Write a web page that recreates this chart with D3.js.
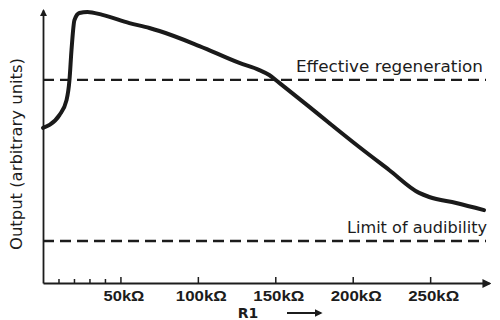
<!DOCTYPE html>
<html>
<head>
<meta charset="utf-8">
<script src="https://cdn.jsdelivr.net/npm/d3@7"></script>
<style>
  body { margin: 0; background: #fff; }
  svg { font-family: "DejaVu Sans", sans-serif; }
  .axis path, .axis line { stroke: #1c1c1c; }
  .axis text { fill: #1c1c1c; }
</style>
</head>
<body>
<div id="chart"></div>
<script>

// resistance R1 (kOhm) and output (arbitrary units)
var r1Values = [0, 4.2, 10.6, 15.2, 17.1, 18.4, 20.3, 23.5, 28.7, 38.4, 55.8, 68.7, 75.2, 101, 126.8, 139.7, 146.1, 152.6, 172, 184.8, 204.2, 223.5, 242.9, 249.4, 266.8, 284.8];
var outputValues = [5.68, 5.79, 6.15, 6.70, 7.44, 8.53, 9.63, 9.89, 9.93, 9.82, 9.52, 9.34, 9.23, 8.68, 8.06, 7.80, 7.62, 7.33, 6.45, 5.86, 4.98, 4.14, 3.30, 3.15, 2.93, 2.67];

var levelNames = ["Effective regeneration", "Limit of audibility"];
var levelValues = [7.44, 1.54];

var majorTicks = [50, 100, 150, 200, 250];
var minorTicks = [10, 20, 30, 40];

var width = 500, height = 320;

var svg = d3.select("#chart")
    .append("svg")
    .attr("width", width)
    .attr("height", height);

var xScale = d3.scaleLinear()
    .domain([0, 288])
    .range([43, 489]);

var yScale = d3.scaleLinear()
    .domain([0, 10])
    .range([283, 10]);

svg.append("defs").append("marker")
    .attr("id", "arrow")
    .attr("viewBox", "0 0 10 10")
    .attr("refX", 8).attr("refY", 5)
    .attr("markerWidth", 4).attr("markerHeight", 5)
    .attr("orient", "auto")
    .append("path")
    .attr("d", "M0,0 L10,5 L0,10 z")
    .attr("fill", "#1c1c1c");

// x axis with upward ticks
var xAxis = d3.axisBottom(xScale)
    .tickValues(majorTicks)
    .tickSize(-6)
    .tickSizeOuter(0)
    .tickPadding(8)
    .tickFormat(function(d) { return d + "k\u03A9"; });

var gx = svg.append("g")
    .attr("class", "axis")
    .attr("transform", "translate(0," + yScale(0) + ")")
    .call(xAxis)
    .attr("font-size", 14);

gx.select(".domain").attr("stroke-width", 2.2).attr("marker-end", "url(#arrow)");
gx.selectAll(".tick line").attr("stroke-width", 1.5);
gx.selectAll(".tick text")
    .attr("dx", 3)
    .attr("textLength", function(d) { return (d + "k\u03A9").length * 10.2; })
    .attr("lengthAdjust", "spacingAndGlyphs")
    .style("font-weight", "bold");

var minorAxis = d3.axisBottom(xScale)
    .tickValues(minorTicks)
    .tickSize(-4)
    .tickFormat("");

svg.append("g")
    .attr("class", "axis")
    .attr("transform", "translate(0," + yScale(0) + ")")
    .call(minorAxis)
    .call(function(g) { g.select(".domain").remove(); })
    .selectAll(".tick line").attr("stroke-width", 1.5);

// y axis, no ticks, arrow on top
var yAxis = d3.axisLeft(yScale).tickValues([]).tickSizeOuter(0);

svg.append("g")
    .attr("class", "axis")
    .attr("transform", "translate(" + xScale(0) + ",0)")
    .call(yAxis)
    .select(".domain")
    .attr("stroke-width", 1.8)
    .attr("marker-end", "url(#arrow)");

// axis titles
svg.append("text")
    .attr("transform", "rotate(-90)")
    .attr("x", -154)
    .attr("y", 22)
    .attr("textLength", 192)
    .attr("lengthAdjust", "spacingAndGlyphs")
    .style("text-anchor", "middle")
    .style("font-size", "15px")
    .attr("fill", "#1c1c1c")
    .text("Output (arbitrary units)");

svg.append("text")
    .attr("x", 248)
    .attr("y", 318)
    .style("text-anchor", "middle")
    .style("font-size", "14px")
    .style("font-weight", "bold")
    .attr("fill", "#1c1c1c")
    .text("R1");

svg.append("line")
    .attr("x1", 287).attr("x2", 321)
    .attr("y1", 313).attr("y2", 313)
    .attr("stroke", "#1c1c1c")
    .attr("stroke-width", 2)
    .attr("marker-end", "url(#arrow)");

// dashed reference levels
var levelLabelX = [296, 347];
var levelLabelW = [187, 140];

levelValues.forEach(function(v, i) {
    svg.append("line")
        .attr("x1", xScale(0))
        .attr("x2", 486)
        .attr("y1", yScale(v))
        .attr("y2", yScale(v))
        .attr("stroke", "#1c1c1c")
        .attr("stroke-width", 2.4)
        .attr("stroke-dasharray", "11,6");

    svg.append("text")
        .attr("x", levelLabelX[i])
        .attr("y", yScale(v) - 8)
        .attr("textLength", levelLabelW[i])
        .attr("lengthAdjust", "spacingAndGlyphs")
        .style("font-size", "15px")
        .attr("fill", "#1c1c1c")
        .text(levelNames[i]);
});

// response curve
var data = r1Values.map(function(r, i) { return { r: r, out: outputValues[i] }; });

var line = d3.line()
    .x(function(d) { return xScale(d.r); })
    .y(function(d) { return yScale(d.out); })
    .curve(d3.curveMonotoneX);

svg.append("path")
    .datum(data)
    .attr("d", line)
    .attr("fill", "none")
    .attr("stroke", "#1a1a1a")
    .attr("stroke-width", 4)
    .attr("stroke-linecap", "round")
    .attr("stroke-linejoin", "round");

</script>
</body>
</html>
